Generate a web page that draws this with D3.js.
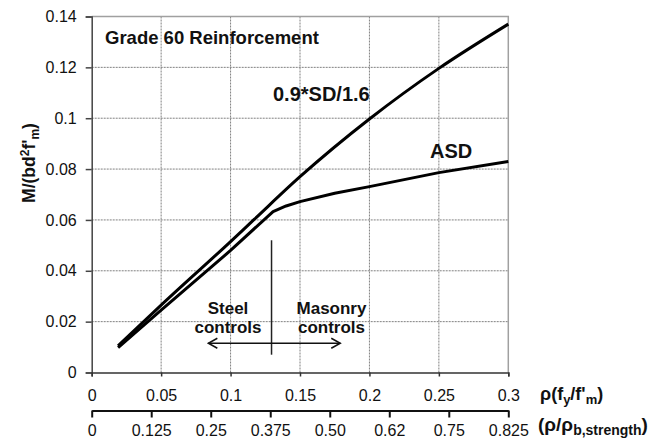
<!DOCTYPE html>
<html>
<head>
<meta charset="utf-8">
<script src="https://cdn.jsdelivr.net/npm/d3@7"></script>
<style>
  body { margin: 0; background: #fff; }
  svg text { font-family: "Liberation Sans", Arial, sans-serif; fill: #111; }
</style>
</head>
<body>
<div id="chart"></div>
<script>
// curve values
const sdX = [0.019, 0.05, 0.1, 0.117, 0.15, 0.2, 0.25, 0.3];
const sdY = [0.0105, 0.0265, 0.0515, 0.0602, 0.077, 0.0997, 0.1196, 0.137];

const asdX = [0.019, 0.05, 0.1, 0.1306, 0.14, 0.15, 0.175, 0.2, 0.25, 0.3];
const asdY = [0.0098, 0.0245, 0.048, 0.0633, 0.0655, 0.0672, 0.0705, 0.0731, 0.0786, 0.083];

// ticks
const xTicks = [0, 0.05, 0.1, 0.15, 0.2, 0.25, 0.3];
const yTicks = [0, 0.02, 0.04, 0.06, 0.08, 0.1, 0.12, 0.14];
const ratioLabels = ["0", "0.125", "0.25", "0.375", "0.50", "0.62", "0.75", "0.825"];

// annotation: steel / masonry boundary and arrow
const dividerX = 0.1295;
const dividerY = [0.007, 0.052];
const arrowX = [0.084, 0.179];
const arrowY = 0.0115;

const size = { width: 667, height: 439 };
const plot = { left: 91.7, right: 508.3, top: 16.5, bottom: 372.5 };

const svg = d3.select("#chart")
  .append("svg")
  .attr("width", size.width)
  .attr("height", size.height);

const x = d3.scaleLinear().domain([0, 0.3]).range([plot.left, plot.right]);
const y = d3.scaleLinear().domain([0, 0.14]).range([plot.bottom, plot.top]);
const x2 = d3.scalePoint().domain(ratioLabels).range([plot.left, plot.right]);

// grid
svg.append("g")
  .selectAll("line")
  .data(xTicks.slice(1, -1))
  .join("line")
  .attr("x1", d => x(d)).attr("x2", d => x(d))
  .attr("y1", plot.top).attr("y2", plot.bottom)
  .attr("stroke", "#808080")
  .attr("stroke-width", 1)
  .attr("stroke-dasharray", "2,1");

svg.append("g")
  .selectAll("line")
  .data(yTicks.slice(1, -1))
  .join("line")
  .attr("x1", plot.left).attr("x2", plot.right)
  .attr("y1", d => y(d)).attr("y2", d => y(d))
  .attr("stroke", "#808080")
  .attr("stroke-width", 1)
  .attr("stroke-dasharray", "2,1");

// frame top / right
svg.append("path")
  .attr("d", `M${plot.left},${plot.top}H${plot.right}V${plot.bottom}`)
  .attr("fill", "none")
  .attr("stroke", "#a0a0a0")
  .attr("stroke-width", 1.5);

// y axis
const yAxis = svg.append("g")
  .attr("transform", `translate(${plot.left},0)`)
  .call(d3.axisLeft(y).tickValues(yTicks).tickFormat(d => d === 0 ? "0" : String(+d.toFixed(2))).tickSize(6).tickPadding(9));
yAxis.select(".domain").attr("stroke", "#444").attr("stroke-width", 1.5);
yAxis.selectAll(".tick line").attr("stroke", "#444").attr("stroke-width", 1.5);
yAxis.selectAll(".tick text")
  .attr("font-size", 16)
  .attr("fill", "#222")
  .style("font-family", "Liberation Sans, Arial, sans-serif");

// x axis (rho fy/f'm)
const xAxis = svg.append("g")
  .attr("transform", `translate(0,${plot.bottom})`)
  .call(d3.axisBottom(x).tickValues(xTicks).tickFormat(d => d === 0 ? "0" : String(+d.toFixed(2))).tickSize(4).tickPadding(13));
xAxis.select(".domain").attr("stroke", "#333").attr("stroke-width", 1.5);
xAxis.selectAll(".tick line").attr("stroke", "#333").attr("stroke-width", 1.5);
xAxis.selectAll(".tick text")
  .attr("font-size", 16)
  .attr("fill", "#222")
  .style("font-family", "Liberation Sans, Arial, sans-serif");

// second axis (rho / rho_b)
const x2Axis = svg.append("g")
  .attr("transform", "translate(0,410.5)")
  .call(d3.axisBottom(x2).tickSize(7).tickSizeOuter(0).tickPadding(7));
x2Axis.select(".domain").attr("stroke", "#111").attr("stroke-width", 2);
x2Axis.selectAll(".tick line").attr("stroke", "#111").attr("stroke-width", 2);
x2Axis.selectAll(".tick text")
  .attr("font-size", 16)
  .attr("fill", "#222")
  .style("font-family", "Liberation Sans, Arial, sans-serif");

// curves
const sd = sdX.map((d, i) => [d, sdY[i]]);
const asd = asdX.map((d, i) => [d, asdY[i]]);

svg.append("path")
  .datum(sd)
  .attr("d", d3.line().x(d => x(d[0])).y(d => y(d[1])).curve(d3.curveMonotoneX))
  .attr("fill", "none")
  .attr("stroke", "#000")
  .attr("stroke-width", 3);

svg.append("path")
  .datum(asd)
  .attr("d", d3.line().x(d => x(d[0])).y(d => y(d[1])))
  .attr("fill", "none")
  .attr("stroke", "#000")
  .attr("stroke-width", 3)
  .attr("stroke-linejoin", "round");

// divider + arrow
svg.append("line")
  .attr("x1", x(dividerX)).attr("x2", x(dividerX))
  .attr("y1", y(dividerY[0])).attr("y2", y(dividerY[1]))
  .attr("stroke", "#222")
  .attr("stroke-width", 1.5);

svg.append("line")
  .attr("x1", x(arrowX[0])).attr("x2", x(arrowX[1]))
  .attr("y1", y(arrowY)).attr("y2", y(arrowY))
  .attr("stroke", "#111")
  .attr("stroke-width", 1.5);

const ay = y(arrowY);
svg.append("path")
  .attr("d", `M${x(arrowX[0]) + 9},${ay - 5}L${x(arrowX[0])},${ay}L${x(arrowX[0]) + 9},${ay + 5}` +
             `M${x(arrowX[1]) - 9},${ay - 5}L${x(arrowX[1])},${ay}L${x(arrowX[1]) - 9},${ay + 5}`)
  .attr("fill", "none")
  .attr("stroke", "#111")
  .attr("stroke-width", 1.5);

// labels
svg.append("text")
  .attr("x", 105).attr("y", 44)
  .attr("font-size", 18.5)
  .attr("font-weight", "bold")
  .text("Grade 60 Reinforcement");

svg.append("text")
  .attr("x", 273).attr("y", 100.5)
  .attr("font-size", 20)
  .attr("font-weight", "bold")
  .text("0.9*SD/1.6");

svg.append("text")
  .attr("x", 430).attr("y", 158)
  .attr("font-size", 20)
  .attr("font-weight", "bold")
  .text("ASD");

const note = (cx, lines) => {
  lines.forEach((t, i) => {
    svg.append("text")
      .attr("x", cx).attr("y", 313.5 + i * 19.5)
      .attr("text-anchor", "middle")
      .attr("font-size", 17)
      .attr("font-weight", "bold")
      .text(t);
  });
};
note(228, ["Steel", "controls"]);
note(331.5, ["Masonry", "controls"]);

// y title
const yt = svg.append("text")
  .attr("transform", "translate(35,163) rotate(-90)")
  .attr("text-anchor", "middle")
  .attr("font-size", 17.5)
  .attr("font-weight", "bold");
yt.append("tspan").text("M/(bd");
yt.append("tspan").attr("dy", -6).attr("font-size", 12).text("2");
yt.append("tspan").attr("dy", 6).text("f'");
yt.append("tspan").attr("dy", 4).attr("font-size", 12).text("m");
yt.append("tspan").attr("dy", -4).text(")");

// x titles
const xt = svg.append("text")
  .attr("x", 540).attr("y", 400)
  .attr("font-size", 18)
  .attr("font-weight", "bold");
xt.append("tspan").text("ρ(f");
xt.append("tspan").attr("dy", 4).attr("font-size", 13).text("y");
xt.append("tspan").attr("dy", -4).text("/f'");
xt.append("tspan").attr("dy", 4).attr("font-size", 13).text("m");
xt.append("tspan").attr("dy", -4).text(")");

const xt2 = svg.append("text")
  .attr("x", 538).attr("y", 431)
  .attr("font-size", 19)
  .attr("font-weight", "bold");
xt2.append("tspan").text("(ρ/ρ");
xt2.append("tspan").attr("dy", 4).attr("font-size", 14).text("b,strength");
xt2.append("tspan").attr("dy", -4).text(")");
</script>
</body>
</html>
